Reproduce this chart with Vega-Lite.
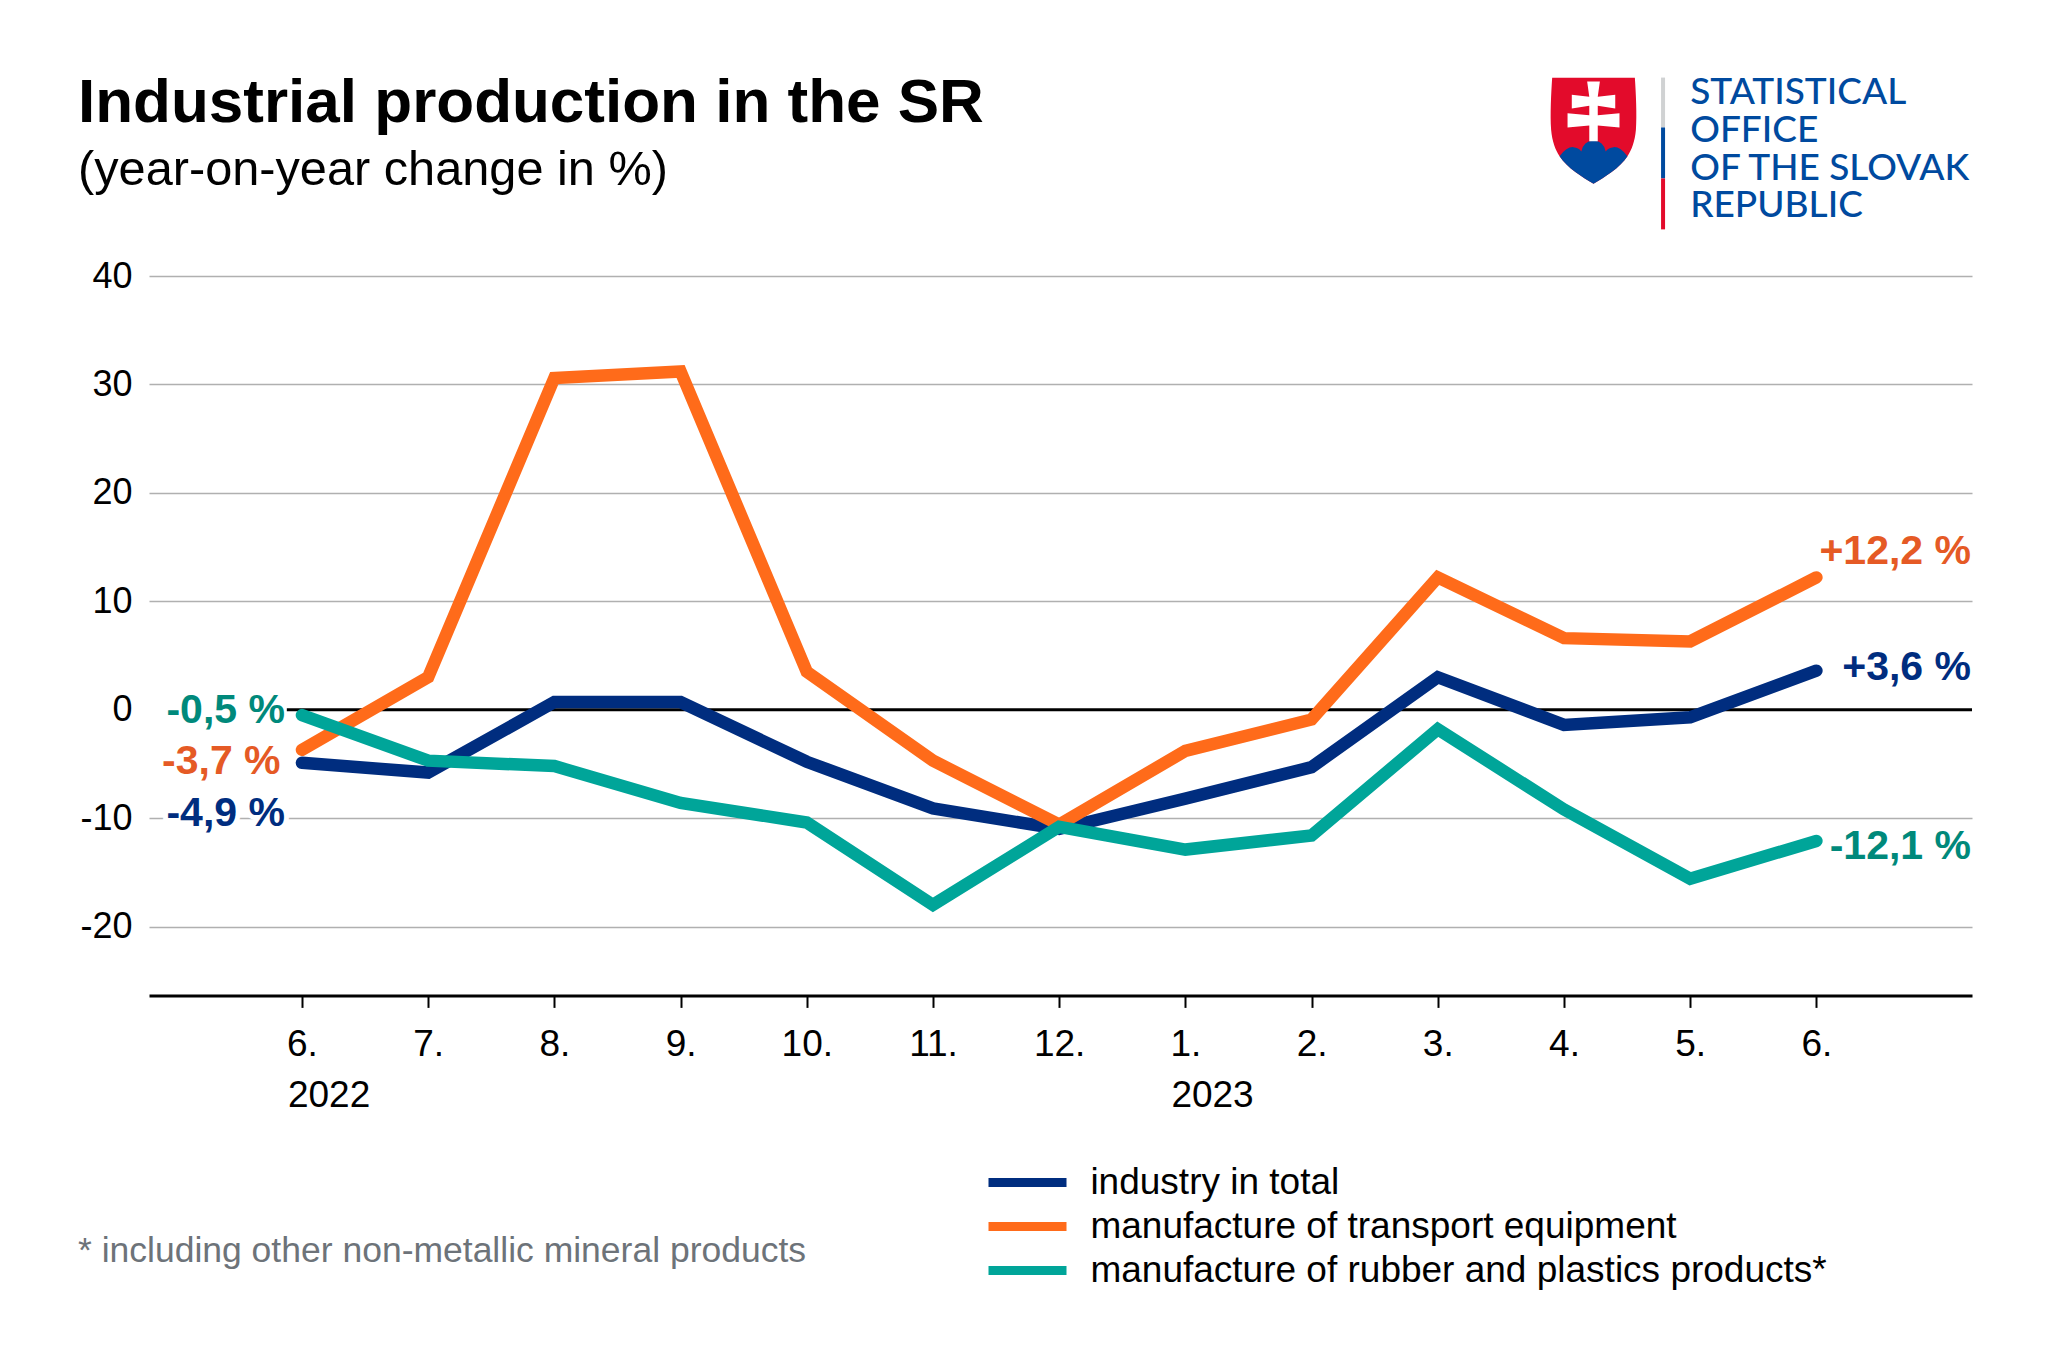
{"$schema":"https://vega.github.io/schema/vega-lite/v6.json","width":1823,"height":719.4,"autosize":"none","padding":{"left":149,"top":276,"right":76,"bottom":369.6},"background":"white","title":{"text":"Industrial production in the SR","subtitle":"(year-on-year change in %)","anchor":"start","frame":"group","dx":-71,"offset":-122.5,"font":"Liberation Sans","fontWeight":"bold","fontSize":62,"color":"black","subtitleFont":"Liberation Sans","subtitleFontSize":48.7,"subtitleColor":"black","subtitlePadding":12.5},
"config":{"view":{"stroke":null},"text":{"font":"Liberation Sans"}},
"datasets":{"series":[
{"idx":0,"value":-4.9,"series":"industry in total"},{"idx":1,"value":-5.8,"series":"industry in total"},{"idx":2,"value":0.7,"series":"industry in total"},{"idx":3,"value":0.7,"series":"industry in total"},{"idx":4,"value":-4.8,"series":"industry in total"},{"idx":5,"value":-9.1,"series":"industry in total"},{"idx":6,"value":-11,"series":"industry in total"},{"idx":7,"value":-8.2,"series":"industry in total"},{"idx":8,"value":-5.3,"series":"industry in total"},{"idx":9,"value":3,"series":"industry in total"},{"idx":10,"value":-1.4,"series":"industry in total"},{"idx":11,"value":-0.7,"series":"industry in total"},{"idx":12,"value":3.6,"series":"industry in total"},
{"idx":0,"value":-3.7,"series":"manufacture of transport equipment"},{"idx":1,"value":3,"series":"manufacture of transport equipment"},{"idx":2,"value":30.6,"series":"manufacture of transport equipment"},{"idx":3,"value":31.2,"series":"manufacture of transport equipment"},{"idx":4,"value":3.5,"series":"manufacture of transport equipment"},{"idx":5,"value":-4.7,"series":"manufacture of transport equipment"},{"idx":6,"value":-10.6,"series":"manufacture of transport equipment"},{"idx":7,"value":-3.8,"series":"manufacture of transport equipment"},{"idx":8,"value":-0.9,"series":"manufacture of transport equipment"},{"idx":9,"value":12.2,"series":"manufacture of transport equipment"},{"idx":10,"value":6.6,"series":"manufacture of transport equipment"},{"idx":11,"value":6.3,"series":"manufacture of transport equipment"},{"idx":12,"value":12.2,"series":"manufacture of transport equipment"},
{"idx":0,"value":-0.5,"series":"manufacture of rubber and plastics products*"},{"idx":1,"value":-4.7,"series":"manufacture of rubber and plastics products*"},{"idx":2,"value":-5.2,"series":"manufacture of rubber and plastics products*"},{"idx":3,"value":-8.6,"series":"manufacture of rubber and plastics products*"},{"idx":4,"value":-10.4,"series":"manufacture of rubber and plastics products*"},{"idx":5,"value":-18,"series":"manufacture of rubber and plastics products*"},{"idx":6,"value":-10.8,"series":"manufacture of rubber and plastics products*"},{"idx":7,"value":-12.9,"series":"manufacture of rubber and plastics products*"},{"idx":8,"value":-11.6,"series":"manufacture of rubber and plastics products*"},{"idx":9,"value":-1.8,"series":"manufacture of rubber and plastics products*"},{"idx":10,"value":-9.2,"series":"manufacture of rubber and plastics products*"},{"idx":11,"value":-15.6,"series":"manufacture of rubber and plastics products*"},{"idx":12,"value":-12.1,"series":"manufacture of rubber and plastics products*"}]},
"data":{"name":"series"},
"encoding":{"x":{"field":"idx","type":"quantitative","title":null,"scale":{"domain":[-1.212,13.233],"nice":false,"zero":false},"axis":{"values":[0,1,2,3,4,5,6,7,8,9,10,11,12],"labelExpr":"((datum.value+5)%12+1)+'.'","grid":false,"domainColor":"black","domainWidth":3,"tickColor":"black","tickWidth":2,"tickSize":12,"labelFont":"Liberation Sans","labelFontSize":37,"labelColor":"black","labelBaseline":"alphabetic","labelPadding":48,"labelFlush":false,"labelOverlap":false,"labelAlign":"center"}},
"y":{"field":"value","type":"quantitative","title":null,"scale":{"domain":[-26.35,40],"nice":false,"zero":false},"axis":{"values":[-20,-10,0,10,20,30,40],"labelExpr":"''+datum.value","grid":true,"gridColor":{"condition":{"test":"datum.value===0","value":"transparent"},"value":"#b0b0b0"},"gridWidth":1.5,"domain":false,"ticks":false,"labelFont":"Liberation Sans","labelFontSize":36,"labelColor":"black","labelPadding":17,"labelAlign":"right"}}},
"layer":[
{"data":{"values":[{"idx":-0.12,"value":0,"end":13.233}]},"mark":{"type":"rule","color":"black","strokeWidth":3},"encoding":{"x2":{"field":"end"}}},
{"data":{"values":[{"idx":0,"value":-4.9,"text":"-4,9 %"}]},"mark":{"type":"text","align":"right","baseline":"alphabetic","fontSize":41,"fontWeight":"bold","color":"white","stroke":"white","strokeWidth":10,"dx":-17,"dy":63},"encoding":{"text":{"field":"text"}}},
{"mark":{"type":"line","strokeWidth":12.5,"strokeCap":"round","strokeJoin":"miter"},"encoding":{"color":{"field":"series","type":"nominal","scale":{"domain":["industry in total","manufacture of transport equipment","manufacture of rubber and plastics products*"],"range":["#002d7f","#ff6b1a","#00a599"]},"legend":{"orient":"none","legendX":860,"legendY":888,"title":null,"symbolType":"M-7.8,0 L7.8,0","symbolSize":100,"symbolStrokeWidth":9,"labelFont":"Liberation Sans","labelFontSize":37,"labelColor":"black","labelOffset":44.4,"labelLimit":1200,"rowPadding":6,"padding":0,"encoding":{"symbols":{"enter":{"strokeCap":{"value":"round"}},"update":{"strokeCap":{"value":"round"}}}}}}}},
{"data":{"values":[{"idx":0,"value":-0.5,"text":"-0,5 %"}]},"mark":{"type":"text","align":"right","baseline":"alphabetic","fontSize":41,"fontWeight":"bold","color":"#00897b","dx":-17,"dy":7.6},"encoding":{"text":{"field":"text"}}},
{"data":{"values":[{"idx":0,"value":-3.7,"text":"-3,7 %"}]},"mark":{"type":"text","align":"right","baseline":"alphabetic","fontSize":41,"fontWeight":"bold","color":"#e55a25","dx":-21.4,"dy":24},"encoding":{"text":{"field":"text"}}},
{"data":{"values":[{"idx":0,"value":-4.9,"text":"-4,9 %"}]},"mark":{"type":"text","align":"right","baseline":"alphabetic","fontSize":41,"fontWeight":"bold","color":"#002d7f","dx":-17,"dy":63},"encoding":{"text":{"field":"text"}}},
{"data":{"values":[{"idx":12,"value":12.2,"text":"+12,2 %"}]},"mark":{"type":"text","align":"right","baseline":"alphabetic","fontSize":41,"fontWeight":"bold","color":"#e55a25","dx":154.6,"dy":-13},"encoding":{"text":{"field":"text"}}},
{"data":{"values":[{"idx":12,"value":3.6,"text":"+3,6 %"}]},"mark":{"type":"text","align":"right","baseline":"alphabetic","fontSize":41,"fontWeight":"bold","color":"#002d7f","dx":154.6,"dy":9},"encoding":{"text":{"field":"text"}}},
{"data":{"values":[{"idx":12,"value":-12.1,"text":"-12,1 %"}]},"mark":{"type":"text","align":"right","baseline":"alphabetic","fontSize":41,"fontWeight":"bold","color":"#00897b","dx":154.6,"dy":18},"encoding":{"text":{"field":"text"}}},
{"data":{"values":[{"idx":0,"value":-36.6,"text":"2022"},{"idx":7,"value":-36.6,"text":"2023"}]},"mark":{"type":"text","align":"left","baseline":"alphabetic","fontSize":37,"color":"black","dx":-14},"encoding":{"text":{"field":"text"}}},
{"data":{"values":[{"idx":-1.775,"value":-50.9,"text":"* including other non-metallic mineral products"}]},"mark":{"type":"text","align":"left","baseline":"alphabetic","fontSize":35.5,"color":"#6d7379"},"encoding":{"text":{"field":"text"}}},
{"data":{"values":[{"idx":11.0,"value":55.9,"text":"STATISTICAL"},{"idx":11.0,"value":52.4,"text":"OFFICE"},{"idx":11.0,"value":48.9,"text":"OF THE SLOVAK"},{"idx":11.0,"value":45.4,"text":"REPUBLIC"}]},"mark":{"type":"text","align":"left","baseline":"alphabetic","font":"Lato","fontWeight":500,"fontSize":37,"color":"#004a9f"},"encoding":{"text":{"field":"text"}}},
{"data":{"values":[{"idx":10.785,"value":58.3,"end":53.7}]},"mark":{"type":"rule","color":"#d0d2d3","strokeWidth":4},"encoding":{"y2":{"field":"end"}}},
{"data":{"values":[{"idx":10.785,"value":53.7,"end":49.0}]},"mark":{"type":"rule","color":"#004a9f","strokeWidth":4},"encoding":{"y2":{"field":"end"}}},
{"data":{"values":[{"idx":10.785,"value":49.0,"end":44.3}]},"mark":{"type":"rule","color":"#e30b2b","strokeWidth":4},"encoding":{"y2":{"field":"end"}}},
{"data":{"values":[{"idx":10.234,"value":53.4}]},"mark":{"type":"point","filled":true,"opacity":1,"strokeWidth":0,"color":"#e30b2b","size":11236,"shape":"M-0.78,-1 L0.78,-1 C0.8,-0.7 0.82,-0.3 0.8,-0.02 C0.78,0.2 0.72,0.36 0.64,0.48 C0.5,0.7 0.2,0.88 0,1 C-0.2,0.88 -0.5,0.7 -0.64,0.48 C-0.72,0.36 -0.78,0.2 -0.8,-0.02 C-0.82,-0.3 -0.8,-0.7 -0.78,-1 Z"}},
{"data":{"values":[{"idx":10.234,"value":53.4}]},"mark":{"type":"point","filled":true,"opacity":1,"strokeWidth":0,"color":"#004a9f","size":11236,"shape":"M-0.64,0.48 Q-0.5,0.3 -0.38,0.31 Q-0.28,0.32 -0.23,0.39 Q-0.18,0.18 0,0.19 Q0.18,0.18 0.23,0.39 Q0.28,0.32 0.38,0.31 Q0.5,0.3 0.64,0.48 C0.5,0.7 0.2,0.88 0,1 C-0.2,0.88 -0.5,0.7 -0.64,0.48 Z"}},
{"data":{"values":[{"idx":10.234,"value":53.4}]},"mark":{"type":"point","filled":true,"opacity":1,"strokeWidth":0,"color":"white","size":11236,"shape":"M-0.12,-0.93 L0.12,-0.93 L0.08,-0.64 L0.41,-0.68 L0.41,-0.42 L0.08,-0.47 L0.08,-0.29 L0.49,-0.33 L0.49,-0.06 L0.08,-0.1 L0.08,0.2 L-0.08,0.2 L-0.08,-0.1 L-0.49,-0.06 L-0.49,-0.33 L-0.08,-0.29 L-0.08,-0.47 L-0.41,-0.42 L-0.41,-0.68 L-0.08,-0.64 Z"}}
]}
